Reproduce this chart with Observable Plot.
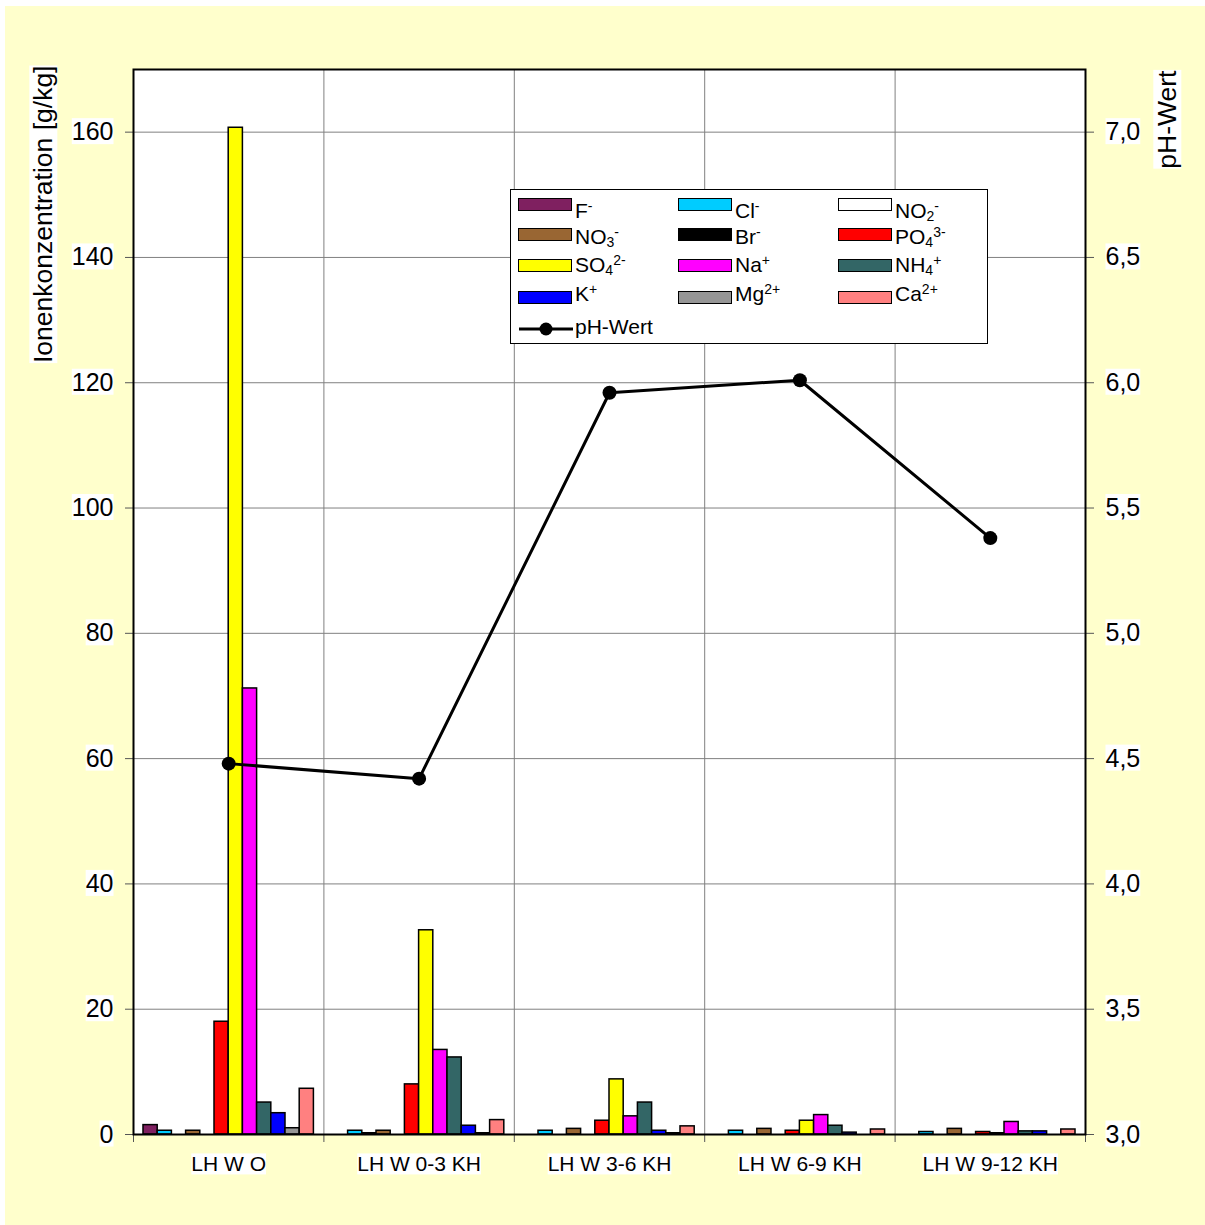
<!DOCTYPE html>
<html>
<head>
<meta charset="utf-8">
<script src="https://cdn.jsdelivr.net/npm/d3@7"></script>
<script src="https://cdn.jsdelivr.net/npm/@observablehq/plot@0.6"></script>
<style>
  html, body { margin: 0; padding: 0; background: #ffffff; }
  #wrap { position: relative; margin: 6px 0 0 5px; width: 1200px; height: 1219px; font-family: "Liberation Sans", Arial, sans-serif; }
  #legend { position: absolute; left: 505px; top: 183px; width: 476px; height: 153px; background: #fff; border: 1px solid #000; font-size: 21px; color: #000; }
  #legend .sw { position: absolute; width: 52px; height: 11px; border: 1.5px solid #000; }
  #legend .lb { position: absolute; line-height: 21px; white-space: nowrap; }
  #legend sup, #legend sub { font-size: 14px; line-height: 0; vertical-align: 0; position: relative; }
  #legend sup { top: -7px; }
  #legend sub { top: 3px; }
</style>
</head>
<body>
<div id="wrap"><div id="legend"></div></div>
<script>
// ---------- data ----------
const categories = ["LH W O", "LH W 0-3 KH", "LH W 3-6 KH", "LH W 6-9 KH", "LH W 9-12 KH"];
const ions = ["F-", "Cl-", "NO2-", "NO3-", "Br-", "PO4 3-", "SO4 2-", "Na+", "NH4+", "K+", "Mg2+", "Ca2+"];
const ionLabels = ["F<sup>-</sup>", "Cl<sup>-</sup>", "NO<sub>2</sub><sup>-</sup>", "NO<sub>3</sub><sup>-</sup>", "Br<sup>-</sup>",
  "PO<sub>4</sub><sup>3-</sup>", "SO<sub>4</sub><sup>2-</sup>", "Na<sup>+</sup>", "NH<sub>4</sub><sup>+</sup>", "K<sup>+</sup>",
  "Mg<sup>2+</sup>", "Ca<sup>2+</sup>"];
const ionColors = ["#7f2060", "#00ccff", "#ffffff", "#996633", "#000000", "#ff0000", "#ffff00", "#ff00ff", "#336666", "#0000ff", "#969696", "#ff8080"];

const fluorid  = [1.5, 0, 0, 0, 0];
const chlorid  = [0.6, 0.6, 0.6, 0.6, 0.4];
const nitrit   = [0, 0.2, 0, 0, 0];
const nitrat   = [0.6, 0.6, 0.9, 0.9, 0.9];
const bromid   = [0, 0, 0, 0, 0];
const phosphat = [18.0, 8.0, 2.2, 0.6, 0.4];
const sulfat   = [160.7, 32.6, 8.8, 2.2, 0.2];
const natrium  = [71.2, 13.5, 2.9, 3.1, 2.0];
const ammonium = [5.1, 12.3, 5.1, 1.4, 0.5];
const kalium   = [3.4, 1.4, 0.6, 0.3, 0.5];
const magnesium = [1.0, 0.2, 0.2, 0, 0];
const calcium  = [7.3, 2.3, 1.3, 0.8, 0.8];
const phWert   = [4.48, 4.42, 5.96, 6.01, 5.38];

const leftTicks = [0, 20, 40, 60, 80, 100, 120, 140, 160];
const rightTickLabels = ["3,0", "3,5", "4,0", "4,5", "5,0", "5,5", "6,0", "6,5", "7,0"];

// ---------- build table ----------
const series = [fluorid, chlorid, nitrit, nitrat, bromid, phosphat, sulfat, natrium, ammonium, kalium, magnesium, calcium];
const rows = [];
categories.forEach((c, i) => series.forEach((vals, j) => {
  if (vals[i] > 0) rows.push({i, j, ion: ions[j], value: vals[i]});
}));
const pad = 0.0525;
const bw = (1 - 2 * pad) / ions.length;
const phToLeft = p => (p - 3) * 40;  // right axis 3..7.25 aligned with left 0..170
const phRows = categories.map((c, i) => ({i, ph: phWert[i]}));

const font = "Liberation Sans, Arial, sans-serif";
const gridCol = "#808080";

const chart = Plot.plot({
  width: 1200,
  height: 1219,
  marginLeft: 128,
  marginRight: 120,
  marginTop: 63,
  marginBottom: 91,
  style: {background: "#ffffcc", fontFamily: font, fontSize: "25px", color: "#000"},
  x: {domain: [0, categories.length], label: null},
  y: {domain: [0, 170], label: null},
  color: {domain: ions, range: ionColors},
  marks: [
    Plot.frame({fill: "white", stroke: null}),
    Plot.gridY({ticks: leftTicks.filter(t => t > 0), stroke: gridCol, strokeOpacity: 1, strokeWidth: 1}),
    Plot.gridX({ticks: d3.range(1, categories.length), stroke: gridCol, strokeOpacity: 1, strokeWidth: 1}),
    Plot.rect(rows, {
      x1: d => d.i + pad + d.j * bw,
      x2: d => d.i + pad + (d.j + 1) * bw,
      y1: 0,
      y2: "value",
      fill: "ion",
      stroke: "#000",
      strokeWidth: 1.5
    }),
    Plot.line(phRows, {x: d => d.i + 0.5, y: d => phToLeft(d.ph), stroke: "#000", strokeWidth: 3}),
    Plot.dot(phRows, {x: d => d.i + 0.5, y: d => phToLeft(d.ph), r: 7, fill: "#000", stroke: null}),
    Plot.axisY({anchor: "left", ticks: leftTicks, tickSize: 8, tickPadding: 12, label: null, stroke: "#555", fontSize: 25}),
    Plot.axisY({anchor: "right", ticks: leftTicks, tickSize: 8, tickPadding: 12, label: null, stroke: "#555", fontSize: 25,
      tickFormat: d => rightTickLabels[leftTicks.indexOf(d)]}),
    Plot.axisX({ticks: d3.range(0, categories.length + 1), tickSize: 8, tickFormat: () => "", label: null, stroke: "#555"}),
    Plot.axisX({ticks: categories.map((c, i) => i + 0.5), tickSize: 0, tickPadding: 22, label: null, fontSize: 21,
      tickFormat: d => categories[Math.floor(d)]}),
    Plot.frame({stroke: "#000", strokeWidth: 2}),
    Plot.text(["Ionenkonzentration [g/kg]"], {frameAnchor: "top-left", rotate: -90, textAnchor: "end", dx: -100, dy: -4, fontSize: 26.5, fill: "#000"}),
    Plot.text(["pH-Wert"], {frameAnchor: "top-right", rotate: -90, textAnchor: "end", dx: 72, dy: 1, fontSize: 26.5, fill: "#000"})
  ]
});

const wrap = document.getElementById("wrap");
wrap.insertBefore(chart, wrap.firstChild);

// white boxes behind all texts (as in the original)
const ns = "http://www.w3.org/2000/svg";
chart.querySelectorAll("text").forEach(t => {
  if (!t.textContent) return;
  const b = t.getBBox();
  if (!b.width) return;
  const r = document.createElementNS(ns, "rect");
  r.setAttribute("x", b.x);
  r.setAttribute("y", b.y + 1);
  r.setAttribute("width", b.width);
  r.setAttribute("height", b.height - 2);
  r.setAttribute("fill", "#fff");
  r.setAttribute("stroke", "none");
  const tr = t.getAttribute("transform");
  if (tr) r.setAttribute("transform", tr);
  t.parentNode.insertBefore(r, t);
});

// legend (HTML, for sub/superscripts)
const legend = document.getElementById("legend");
const colX = [7, 167, 327];
const rowTop = [8, 38, 69, 101];
const labTop = [10, 36, 64, 93];
ions.forEach((ion, k) => {
  const col = k % 3, row = Math.floor(k / 3);
  const sw = document.createElement("div");
  sw.className = "sw";
  sw.style.left = colX[col] + "px";
  sw.style.top = rowTop[row] + "px";
  sw.style.background = ionColors[k];
  legend.appendChild(sw);
  const lb = document.createElement("div");
  lb.className = "lb";
  lb.style.left = (colX[col] + 57) + "px";
  lb.style.top = labTop[row] + "px";
  lb.innerHTML = ionLabels[k];
  legend.appendChild(lb);
});
const phLine = document.createElementNS(ns, "svg");
phLine.setAttribute("width", 60);
phLine.setAttribute("height", 20);
phLine.style.position = "absolute";
phLine.style.left = "6px";
phLine.style.top = "129px";
phLine.innerHTML = '<line x1="2" y1="10" x2="56" y2="10" stroke="#000" stroke-width="3"/><circle cx="29" cy="10" r="6.5" fill="#000"/>';
legend.appendChild(phLine);
const phLab = document.createElement("div");
phLab.className = "lb";
phLab.style.left = "64px";
phLab.style.top = "126px";
phLab.textContent = "pH-Wert";
legend.appendChild(phLab);
</script>
</body>
</html>
